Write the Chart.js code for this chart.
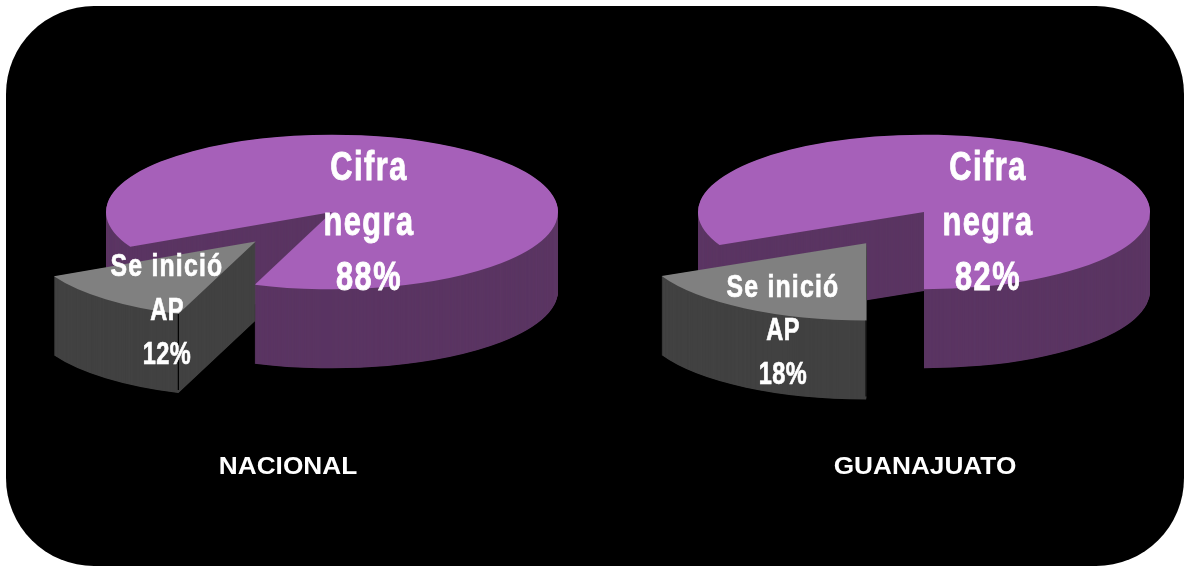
<!DOCTYPE html>
<html lang="es">
<head>
<meta charset="utf-8">
<title>Cifra negra</title>
<script src="https://cdn.jsdelivr.net/npm/chart.js@4/dist/chart.umd.js"></script>
<style>
    html, body { margin: 0; padding: 0; background: #fff; overflow: hidden; }
    #page { position: relative; width: 1185px; height: 567px; }
    #panel { position: absolute; left: 6px; top: 6px; width: 1178px; height: 560px; background: #000; border-radius: 88px; }
    canvas { position: absolute; top: 0; }
    #chartNacional { left: 0; }
    #chartGuanajuato { left: 592px; }
</style>
</head>
<body>
<div id="page">
    <div id="panel"></div>
    <canvas id="chartNacional" width="592" height="567"></canvas>
    <canvas id="chartGuanajuato" width="593" height="567"></canvas>
</div>
<script>
    // === DATA ===
    const CATEGORIES = ["Se inició AP", "Cifra negra"];
    const NACIONAL_VALUES = [12, 88];
    const GUANAJUATO_VALUES = [18, 82];
    const NACIONAL_TITLE = "NACIONAL";
    const GUANAJUATO_TITLE = "GUANAJUATO";
    const SMALL_LINES = ["Se inició", "AP"];
    const BIG_LINES = ["Cifra", "negra"];

    // === STYLE ===
    const COLORS = {
        top: ["#808080", "#a660b9"],
        side: ["#404040", "#593361"],
        text: "#ffffff",
    };
    const RADIUS = 226;
    const SQUASH = 0.342; // pie is seen from a low angle
    const DEPTH = 79;

    // Draws the pie as a thick tilted disc, using the arcs Chart.js has laid out
    const tiltedPie = {
        id: "tiltedPie",
        beforeDatasetDraw(chart, args, opts) {
            const ctx = chart.ctx;
            const arcs = args.meta.data;

            const drawAt = (arc, shiftY, color) => {
                const mid = (arc.startAngle + arc.endAngle) / 2;
                const pull = arc.$context.index === 0 ? opts.pull : 0;
                const saved = arc.options;
                arc.options = Object.assign(Object.create(saved), { backgroundColor: color, borderWidth: 0 });
                ctx.save();
                ctx.translate(opts.cx, opts.cy + shiftY);
                ctx.scale(1, SQUASH);
                ctx.translate(Math.cos(mid) * pull - arc.x, Math.sin(mid) * pull - arc.y);
                arc.draw(ctx);
                ctx.restore();
                arc.options = saved;
            };

            // painted front to back with destination-over, repeated layers on top of each other show stripes
            ctx.save();
            ctx.globalCompositeOperation = "destination-over";
            [0, 1].forEach((i) => {
                drawAt(arcs[i], 0, COLORS.top[i]);
                for (let d = 0.5; d <= DEPTH; d += 0.5) drawAt(arcs[i], d, COLORS.side[i]);
            });
            ctx.restore();

            // thin dark edge where the slice's outer face meets its cut face
            const slice = arcs[0];
            const mid = (slice.startAngle + slice.endAngle) / 2;
            const edgeX = opts.cx + Math.cos(slice.startAngle) * slice.outerRadius + Math.cos(mid) * opts.pull;
            const edgeY = opts.cy + (Math.sin(slice.startAngle) * slice.outerRadius + Math.sin(mid) * opts.pull) * SQUASH;
            ctx.save();
            ctx.strokeStyle = "#000";
            ctx.lineWidth = 1.2;
            ctx.beginPath();
            ctx.moveTo(edgeX, edgeY);
            ctx.lineTo(edgeX, edgeY + DEPTH - 3);
            ctx.stroke();
            ctx.restore();

            return false; // already drawn
        },
        afterDraw(chart, args, opts) {
            const ctx = chart.ctx;
            const values = chart.data.datasets[0].data;
            const text = (str, x, y, size, stretch, spacing, heavy) => {
                ctx.save();
                ctx.translate(x, y);
                ctx.scale(stretch, 1);
                ctx.font = `bold ${size}px "Liberation Sans", Arial, sans-serif`;
                ctx.letterSpacing = spacing + "px";
                ctx.fillStyle = COLORS.text;
                ctx.strokeStyle = COLORS.text;
                ctx.lineWidth = heavy;
                ctx.textAlign = "center";
                ctx.textBaseline = "alphabetic";
                ctx.fillText(str, 0, 0);
                if (heavy) ctx.strokeText(str, 0, 0);
                ctx.restore();
            };

            BIG_LINES.concat(values[1] + "%").forEach((line, i) => {
                text(line, opts.bigX, opts.bigY[i], 41, 0.75, 2, 0.9);
            });
            SMALL_LINES.concat(values[0] + "%").forEach((line, i) => {
                text(line, opts.smallX, opts.smallY[i], 31, i === 0 ? 0.8 : 0.76, i === 0 ? 1.5 : 0.5, 0.7);
            });
            text(opts.caption, opts.captionX, 474, 24.5, 1.07, 0, 0);
        },
    };

    function makePie(id, values, rotation, opts) {
        return new Chart(document.getElementById(id).getContext("2d"), {
            type: "pie",
            plugins: [tiltedPie],
            data: {
                labels: CATEGORIES,
                datasets: [{ data: values, backgroundColor: COLORS.top, borderWidth: 0, radius: RADIUS }],
            },
            options: {
                responsive: false,
                animation: false,
                rotation: rotation,
                plugins: {
                    legend: { display: false },
                    tooltip: { enabled: false },
                    tiltedPie: opts,
                },
            },
        });
    }

    makePie("chartNacional", NACIONAL_VALUES, 200, {
        cx: 332, cy: 212, pull: 115,
        bigX: 369, bigY: [180, 235, 290],
        smallX: 167, smallY: [276, 320, 364],
        caption: NACIONAL_TITLE, captionX: 288,
    });

    makePie("chartGuanajuato", GUANAJUATO_VALUES, 180, {
        cx: 332, cy: 212, pull: 108,
        bigX: 396, bigY: [180, 235, 290],
        smallX: 191, smallY: [297, 340, 384],
        caption: GUANAJUATO_TITLE, captionX: 333,
    });
</script>
</body>
</html>
